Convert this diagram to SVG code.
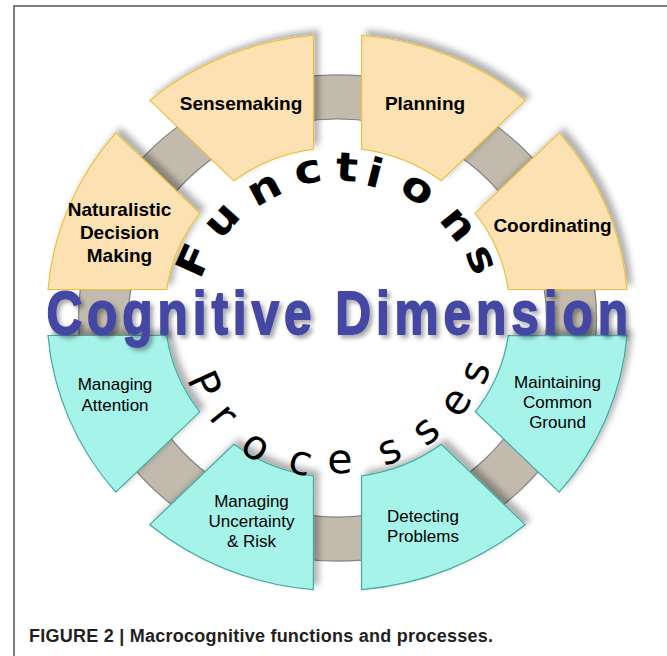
<svg xmlns="http://www.w3.org/2000/svg" xmlns:xlink="http://www.w3.org/1999/xlink" width="667" height="656" viewBox="0 0 667 656">
  <defs>
    <!-- one ring segment spanning 0..45 degrees, gaps of constant width on both sides -->
    <path id="seg" d="M 277.05,-23 A 278,278 0 0 0 212.2,-179.6 L 131.8,-99.3 A 165,165 0 0 1 163.39,-23 Z"/>
    <filter id="segShadow" x="-20%" y="-20%" width="140%" height="140%">
      <feDropShadow dx="5" dy="-5" stdDeviation="3" flood-color="#000" flood-opacity="0.3"/>
    </filter>
    <filter id="titleShadow" x="-5%" y="-30%" width="110%" height="160%">
      <feDropShadow dx="3" dy="3" stdDeviation="2" flood-color="#000" flood-opacity="0.35"/>
    </filter>
  </defs>
  <style>
    .func { fill: #fce2b2; stroke: #ecc143; stroke-width: 1.2; }
    .proc { fill: #a6f3ea; stroke: #45aaa2; stroke-width: 1.2; }
    .lblB { font-family: "Liberation Sans", Arial, sans-serif; font-weight: bold; font-size: 19px; fill: #000; text-anchor: middle; }
    .lbl { font-family: "Liberation Sans", Arial, sans-serif; font-size: 17px; fill: #000; text-anchor: middle; }
    .arcF { font-family: "DejaVu Sans", sans-serif; font-weight: bold; font-size: 40px; fill: #000; text-anchor: middle; }
    .arcP { font-family: "DejaVu Sans", sans-serif; font-size: 41px; fill: #000; text-anchor: middle; }
    .title { font-family: "Liberation Sans", Arial, sans-serif; font-weight: bold; font-size: 62px; fill: #4447a5; stroke: #4447a5; stroke-width: 1.8; stroke-linejoin: round; }
    .caption { font-family: "Liberation Sans", Arial, sans-serif; font-weight: bold; font-size: 18px; fill: #231f20; }
  </style>

  <rect width="667" height="656" fill="#fff"/>
  <!-- frame -->
  <path d="M 14,656 V 6 H 667" fill="none" stroke="#555" stroke-width="1.5"/>

  <!-- connecting ring behind the segments -->
  <g id="connectors">
    <path d="M 78.5,318 a 259,243 0 1 0 518,0 a 259,243 0 1 0 -518,0 Z M 128.5,318 a 209,199 0 1 0 418,0 a 209,199 0 1 0 -418,0 Z"
          fill="#c2bbad" fill-rule="evenodd" stroke="#858585" stroke-width="1.3"/>
  </g>

  <!-- functions (upper half) -->
  <g id="node-coordinating">
    <g filter="url(#segShadow)"><use xlink:href="#seg" class="func" transform="translate(337.5,312.5) scale(1.045,1)"/></g>
    <text class="lblB" x="552.5" y="232">Coordinating</text>
  </g>
  <g id="node-planning">
    <g filter="url(#segShadow)"><use xlink:href="#seg" class="func" transform="translate(337.5,312.5) scale(1.045,1) rotate(-45)"/></g>
    <text class="lblB" x="425" y="110">Planning</text>
  </g>
  <g id="node-sensemaking">
    <g filter="url(#segShadow)"><use xlink:href="#seg" class="func" transform="translate(337.5,312.5) scale(1.045,1) rotate(-90)"/></g>
    <text class="lblB" x="241" y="110">Sensemaking</text>
  </g>
  <g id="node-naturalistic-decision-making">
    <g filter="url(#segShadow)"><use xlink:href="#seg" class="func" transform="translate(337.5,312.5) scale(1.045,1) rotate(-135)"/></g>
    <text class="lblB" x="119.5" y="216">Naturalistic</text>
    <text class="lblB" x="119.5" y="239">Decision</text>
    <text class="lblB" x="119.5" y="262">Making</text>
  </g>

  <!-- processes (lower half) -->
  <g id="node-managing-attention">
    <g filter="url(#segShadow)"><use xlink:href="#seg" class="proc" transform="translate(337.5,312.5) scale(1.045,1) rotate(-180)"/></g>
    <text class="lbl" x="115" y="390">Managing</text>
    <text class="lbl" x="115" y="411">Attention</text>
  </g>
  <g id="node-managing-uncertainty">
    <g filter="url(#segShadow)"><use xlink:href="#seg" class="proc" transform="translate(337.5,312.5) scale(1.045,1) rotate(-225)"/></g>
    <text class="lbl" x="251.5" y="507">Managing</text>
    <text class="lbl" x="251.5" y="527">Uncertainty</text>
    <text class="lbl" x="251.5" y="547">&amp; Risk</text>
  </g>
  <g id="node-detecting-problems">
    <g filter="url(#segShadow)"><use xlink:href="#seg" class="proc" transform="translate(337.5,312.5) scale(1.045,1) rotate(-270)"/></g>
    <text class="lbl" x="423" y="522">Detecting</text>
    <text class="lbl" x="423" y="542">Problems</text>
  </g>
  <g id="node-maintaining-common-ground">
    <g filter="url(#segShadow)"><use xlink:href="#seg" class="proc" transform="translate(337.5,312.5) scale(1.045,1) rotate(-315)"/></g>
    <text class="lbl" x="557.5" y="388">Maintaining</text>
    <text class="lbl" x="557.5" y="408">Common</text>
    <text class="lbl" x="557.5" y="428">Ground</text>
  </g>

  <!-- "Functions" set along the upper inner arc -->
  <g id="arc-functions" class="arcF">
    <text transform="translate(193,260) rotate(-66) scale(1.15,1)" y="14.6">F</text>
    <text transform="translate(223,221) rotate(-47.9) scale(1.15,1)" y="11.2">u</text>
    <text transform="translate(265,190) rotate(-28) scale(1.15,1)" y="11.2">n</text>
    <text transform="translate(308,172) rotate(-10.7) scale(1.15,1)" y="11.2">c</text>
    <text transform="translate(347,167) rotate(3.8) scale(1.15,1)" y="14">t</text>
    <text transform="translate(375,172) rotate(14.3) scale(1.15,1)" y="15">i</text>
    <text transform="translate(417,190) rotate(31.1) scale(1.15,1)" y="11.2">o</text>
    <text transform="translate(457,225) rotate(50.7) scale(1.15,1)" y="11.2">n</text>
    <text transform="translate(480,260) rotate(66.1) scale(1.15,1)" y="11.2">s</text>
  </g>

  <!-- "Processes" set along the lower inner arc -->
  <g id="arc-processes" class="arcP">
    <text transform="translate(205,384) rotate(65.3)" y="14.6">P</text>
    <text transform="translate(222,417) rotate(50.8)" y="11.2">r</text>
    <text transform="translate(255,448) rotate(33.2)" y="11.2">o</text>
    <text transform="translate(300,463) rotate(14.7)" y="11.2">c</text>
    <text transform="translate(340,462) rotate(-1)" y="11.2">e</text>
    <text transform="translate(390,452) rotate(-22.6)" y="11.2">s</text>
    <text transform="translate(427,432) rotate(-39.9)" y="11.2">s</text>
    <text transform="translate(457,403) rotate(-56.6)" y="11.2">e</text>
    <text transform="translate(477,373) rotate(-70.6)" y="11.2">s</text>
  </g>

  <!-- central title -->
  <g id="title" filter="url(#titleShadow)">
    <text class="title" transform="scale(0.8,1)" x="58" y="334" textLength="727" lengthAdjust="spacing">Cognitive Dimension</text>
  </g>

  <text class="caption" x="29" y="642" textLength="464" lengthAdjust="spacing">FIGURE 2 | Macrocognitive functions and processes.</text>
</svg>
